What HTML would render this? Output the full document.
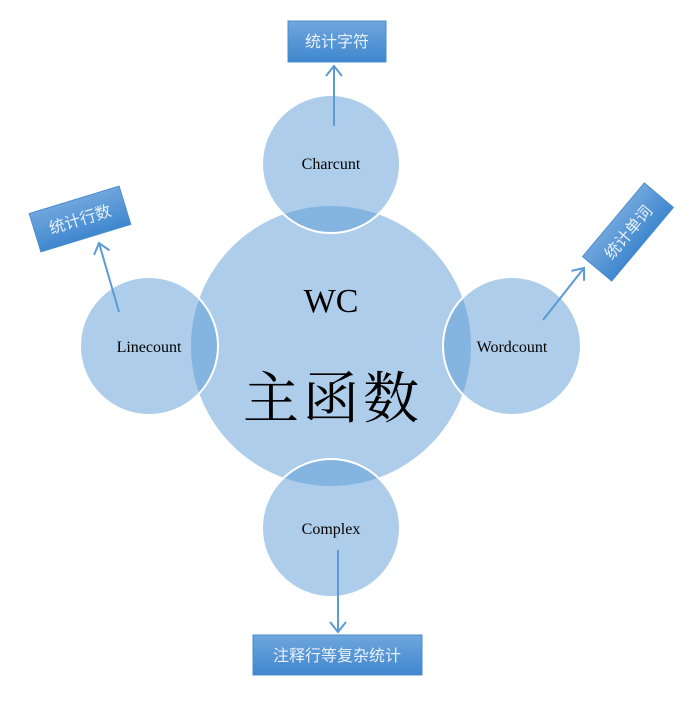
<!DOCTYPE html>
<html><head><meta charset="utf-8"><style>
body{margin:0;background:#fff;width:689px;height:707px;overflow:hidden}
</style></head><body>
<svg width="689" height="707" xmlns="http://www.w3.org/2000/svg">
<defs>
<linearGradient id="g" x1="0" y1="0" x2="0" y2="1">
<stop offset="0" stop-color="#6fa6dc"/><stop offset="1" stop-color="#3f87cf"/></linearGradient>
<marker id="a" markerWidth="20" markerHeight="20" refX="13" refY="10" orient="auto" markerUnits="userSpaceOnUse">
<path d="M3,2 L13,10 L3,18" fill="none" stroke="#5b9bd5" stroke-width="2"/></marker>
</defs>
<g fill="rgba(91,155,213,0.5)">
<circle cx="331" cy="346" r="140"/>
</g>
<g fill="rgba(91,155,213,0.5)" stroke="#fff" stroke-width="2">
<circle cx="331" cy="164" r="69"/>
<circle cx="149" cy="346" r="69"/>
<circle cx="512" cy="346" r="69"/>
<circle cx="331" cy="528" r="69"/>
</g>
<g font-family="Liberation Serif, Noto Serif CJK SC, serif" fill="#000" text-anchor="middle">
<text x="331" y="169" font-size="16">Charcunt</text>
<text x="149" y="352" font-size="16">Linecount</text>
<text x="512" y="352" font-size="16">Wordcount</text>
<text x="331" y="534" font-size="16">Complex</text>
<text x="331" y="312" font-size="34">WC</text>
<text x="333" y="418" font-size="56" letter-spacing="4">主函数</text>
</g>
<g stroke="#5b9bd5" stroke-width="2" marker-end="url(#a)">
<line x1="334" y1="126" x2="334" y2="66"/>
<line x1="119" y1="312" x2="99" y2="243"/>
<line x1="543" y1="320" x2="584" y2="268"/>
<line x1="338" y1="550" x2="338" y2="632"/>
</g>
<g font-family="Liberation Sans, Noto Sans CJK SC, sans-serif" font-size="16" fill="#e8f0fa" text-anchor="middle">
<rect x="288" y="21" width="98" height="41" fill="url(#g)" stroke="#4a8ccf"/>
<text x="337" y="47">统计字符</text>
<rect x="253" y="635" width="169" height="40" fill="url(#g)" stroke="#4a8ccf"/>
<text x="337" y="661">注释行等复杂统计</text>
<g transform="translate(80,219) rotate(-17)">
<rect x="-47" y="-20" width="94" height="40" fill="url(#g)" stroke="#4a8ccf"/>
<text x="0" y="6">统计行数</text></g>
<g transform="translate(628,232) rotate(-50)">
<rect x="-48" y="-19" width="96" height="38" fill="url(#g)" stroke="#4a8ccf"/>
<text x="0" y="6">统计单词</text></g>
</g>
</svg>
</body></html>
